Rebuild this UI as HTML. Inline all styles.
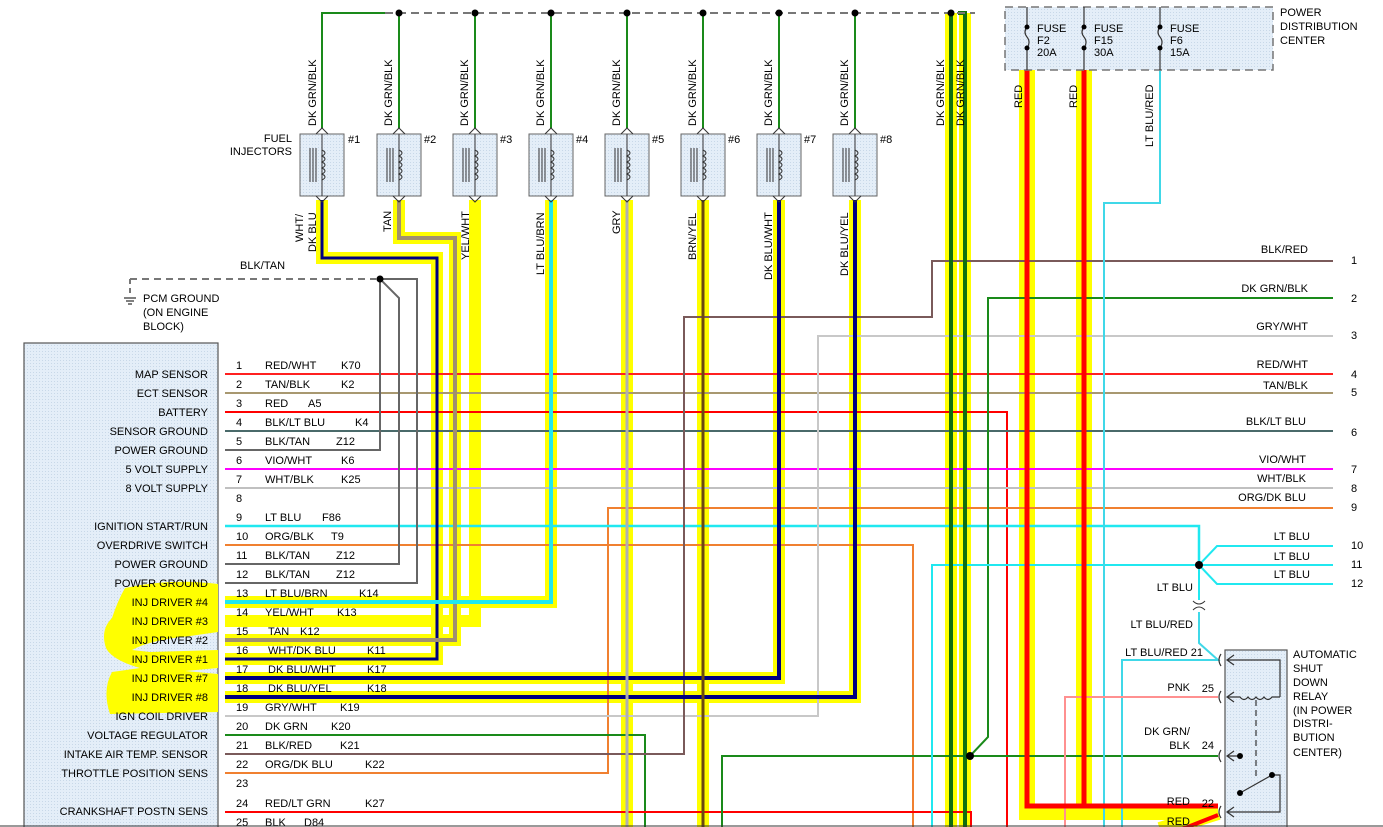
<!DOCTYPE html>
<html><head><meta charset="utf-8"><style>
html,body{margin:0;padding:0;background:#fff;}
svg{display:block;font-family:"Liberation Sans",sans-serif;font-size:11px;}
</style></head><body>
<svg width="1383" height="827" viewBox="0 0 1383 827" xmlns="http://www.w3.org/2000/svg">
<defs>
<pattern id="dots" width="3" height="3" patternUnits="userSpaceOnUse"><rect width="3" height="3" fill="#e4eef8"/><rect width="1" height="1" fill="#c8d8e8"/></pattern>
</defs>
<rect width="1383" height="827" fill="#fff"/>
<!-- PCM box -->
<rect x="24" y="343" width="194" height="490" fill="url(#dots)" stroke="#555" stroke-width="1.2"/>
<!-- left highlight blobs -->
<path d="M125 588 Q170 578 218 584 L218 632 L190 636 Q150 640 132 650 L150 652 L218 650 L218 668 L185 671 L218 674 L218 712 L110 714 Q102 690 112 672 L140 668 Q112 660 106 648 Q100 630 112 618 Q118 600 125 588 Z" fill="#ffff00"/>
<g text-anchor="end" fill="#000">
<text x="208" y="378">MAP SENSOR</text><text x="208" y="397">ECT SENSOR</text><text x="208" y="416">BATTERY</text>
<text x="208" y="435">SENSOR GROUND</text><text x="208" y="454">POWER GROUND</text><text x="208" y="473">5 VOLT SUPPLY</text>
<text x="208" y="492">8 VOLT SUPPLY</text><text x="208" y="530">IGNITION START/RUN</text><text x="208" y="549">OVERDRIVE SWITCH</text>
<text x="208" y="568">POWER GROUND</text><text x="208" y="587">POWER GROUND</text><text x="208" y="606">INJ DRIVER #4</text>
<text x="208" y="625">INJ DRIVER #3</text><text x="208" y="644">INJ DRIVER #2</text><text x="208" y="663">INJ DRIVER #1</text>
<text x="208" y="682">INJ DRIVER #7</text><text x="208" y="701">INJ DRIVER #8</text><text x="208" y="720">IGN COIL DRIVER</text>
<text x="208" y="739">VOLTAGE REGULATOR</text><text x="208" y="758">INTAKE AIR TEMP. SENSOR</text><text x="208" y="777">THROTTLE POSITION SENS</text>
<text x="208" y="815">CRANKSHAFT POSTN SENS</text>
</g>
<!-- highlight backgrounds -->
<g fill="none" stroke="#ffff00" stroke-width="12" stroke-linejoin="miter">
<polyline points="225,659 437,659 437,258 322,258 322,200"/>
<polyline points="225,640 455,640 455,238 399,238 399,200"/>
<polyline points="225,621 475,621 475,200"/>
<polyline points="225,602 551,602 551,200"/>
<polyline points="225,678 779,678 779,200"/>
<polyline points="225,697 855,697 855,200"/>
<polyline points="627,200 627,830"/>
<polyline points="703,200 703,830"/>
<polyline points="951,13 951,830"/>
<polyline points="965,13 965,830"/>
</g>
<g fill="none" stroke="#ffff00" stroke-width="16">
<polyline points="1027,70 1027,812 1218,812"/>
<polyline points="1084,70 1084,812"/>
<polyline points="1160,830 1218,812"/>
</g>
<!-- thin wires -->
<g fill="none" stroke-width="2">
<polyline points="225,374 1333,374" stroke="#ff2020"/>
<polyline points="225,393 1333,393" stroke="#a89870"/>
<polyline points="225,412 1007,412 1007,830" stroke="#ff0000"/>
<polyline points="225,431 1333,431" stroke="#4a6a6a"/>
<polyline points="225,450 380,450 380,279" stroke="#666"/>
<polyline points="225,469 1333,469" stroke="#ff00ff"/>
<polyline points="225,488 1333,488" stroke="#c0c0c0"/>
<polyline points="1333,508 608,508 608,773 225,773" stroke="#f08030"/>
<polyline points="225,526 1199,526 1199,565" stroke="#20e8f0" stroke-width="2.5"/>
<polyline points="225,545 913,545 913,830" stroke="#f08030"/>
<polyline points="225,564 399,564 399,298 380,279" stroke="#666"/>
<polyline points="225,583 417,583 417,279 380,279" stroke="#666"/>
<polyline points="225,716 818,716 818,336 1333,336" stroke="#c8c8c8"/>
<polyline points="225,735 645,735 645,830" stroke="#1a8a1a"/>
<polyline points="225,754 684,754 684,317 932,317 932,261 1333,261" stroke="#7a5a5a"/>
<polyline points="225,812 971,812 971,830" stroke="#ff0000"/>
<polyline points="1333,298 988,298 988,737 970,756" stroke="#1a8a1a"/>
<polyline points="1218,756 722,756 722,830" stroke="#1a8a1a"/>
<polyline points="932,830 932,565 1199,565 1217,546 1333,546" stroke="#20e8f0"/>
<polyline points="1199,565 1333,565" stroke="#20e8f0"/>
<polyline points="1199,565 1217,584 1333,584" stroke="#20e8f0"/>
<polyline points="1199,565 1199,600" stroke="#20e8f0"/>
<polyline points="1199,612 1199,643 1218,660 1122,660 1122,830" stroke="#40d8e8"/>
<polyline points="1160,70 1160,203 1104,203 1104,830" stroke="#40d8e8"/>
<polyline points="1218,697 1065,697 1065,830" stroke="#ff9090"/>
</g>
<!-- highlighted wire cores -->
<g fill="none" stroke-linejoin="miter">
<polyline points="225,659 437,659 437,258 322,258 322,200" stroke="#000080" stroke-width="3"/>
<polyline points="225,640 455,640 455,238 399,238 399,200" stroke="#a09070" stroke-width="4"/>
<polyline points="225,602 551,602 551,200" stroke="#20e8f0" stroke-width="4"/>
<polyline points="225,678 779,678 779,200" stroke="#000080" stroke-width="4"/>
<polyline points="225,697 855,697 855,200" stroke="#000080" stroke-width="4"/>
<polyline points="627,200 627,830" stroke="#b0b0b0" stroke-width="3"/>
<polyline points="703,200 703,830" stroke="#6b4a10" stroke-width="3"/>
<polyline points="951,13 951,830" stroke="#107010" stroke-width="4"/>
<polyline points="958,13 965,13 965,830" stroke="#107010" stroke-width="4"/>
<polyline points="1027,70 1027,806 1218,806" stroke="#ff0000" stroke-width="5"/>
<polyline points="1084,70 1084,806" stroke="#ff0000" stroke-width="5"/>
<polyline points="1180,830 1218,815" stroke="#ff0000" stroke-width="4"/>
</g>
<!-- injector top wires -->
<g stroke="#1a8a1a" stroke-width="2" fill="none">
<polyline points="322,128 322,13 385,13"/>
<line x1="399" y1="13" x2="399" y2="128"/><line x1="475" y1="13" x2="475" y2="128"/>
<line x1="551" y1="13" x2="551" y2="128"/><line x1="627" y1="13" x2="627" y2="128"/>
<line x1="703" y1="13" x2="703" y2="128"/><line x1="779" y1="13" x2="779" y2="128"/>
<line x1="855" y1="13" x2="855" y2="128"/>
</g>
<line x1="385" y1="13" x2="975" y2="13" stroke="#777" stroke-width="2" stroke-dasharray="8,5"/>
<g fill="#000"><circle cx="399" cy="13" r="3.5"/><circle cx="475" cy="13" r="3.5"/><circle cx="551" cy="13" r="3.5"/><circle cx="627" cy="13" r="3.5"/><circle cx="703" cy="13" r="3.5"/><circle cx="779" cy="13" r="3.5"/><circle cx="855" cy="13" r="3.5"/><circle cx="951" cy="13" r="3.5"/>
<circle cx="380" cy="279" r="3.5"/><circle cx="970" cy="756" r="4"/><circle cx="1199" cy="565" r="4"/></g>
<!-- injectors -->
<g id="inj">
<g stroke="#333" fill="none" stroke-width="1">
<rect x="300" y="134" width="44" height="62" fill="url(#dots)" stroke="#666"/>
<line x1="322" y1="134" x2="322" y2="196"/><path d="M316 134 L322 128 L328 134 M316 196 L322 202 L328 196"/>
<path d="M322 150 q6 3 0 6 q6 3 0 6 q6 3 0 6 q6 3 0 6 q6 3 0 6"/>
<line x1="310" y1="148" x2="310" y2="182"/><line x1="313" y1="148" x2="313" y2="182"/><line x1="316" y1="148" x2="316" y2="182"/>
</g></g>
<use href="#inj" x="77"/><use href="#inj" x="153"/><use href="#inj" x="229"/><use href="#inj" x="305"/><use href="#inj" x="381"/><use href="#inj" x="457"/><use href="#inj" x="533"/>
<text x="348" y="143">#1</text><text x="424" y="143">#2</text><text x="500" y="143">#3</text><text x="576" y="143">#4</text><text x="652" y="143">#5</text><text x="728" y="143">#6</text><text x="804" y="143">#7</text><text x="880" y="143">#8</text>
<text x="292" y="142" text-anchor="end">FUEL</text><text x="292" y="155" text-anchor="end">INJECTORS</text>
<!-- rotated labels -->
<g>
<text transform="translate(316,126) rotate(-90)">DK GRN/BLK</text>
<text transform="translate(392,126) rotate(-90)">DK GRN/BLK</text>
<text transform="translate(468,126) rotate(-90)">DK GRN/BLK</text>
<text transform="translate(544,126) rotate(-90)">DK GRN/BLK</text>
<text transform="translate(620,126) rotate(-90)">DK GRN/BLK</text>
<text transform="translate(696,126) rotate(-90)">DK GRN/BLK</text>
<text transform="translate(772,126) rotate(-90)">DK GRN/BLK</text>
<text transform="translate(848,126) rotate(-90)">DK GRN/BLK</text>
<text transform="translate(944,126) rotate(-90)">DK GRN/BLK</text>
<text transform="translate(964,126) rotate(-90)">DK GRN/BLK</text>
<text transform="translate(303,242) rotate(-90)">WHT/</text>
<text transform="translate(316,252) rotate(-90)">DK BLU</text>
<text transform="translate(391,232) rotate(-90)">TAN</text>
<text transform="translate(469,260) rotate(-90)">YEL/WHT</text>
<text transform="translate(544,275) rotate(-90)">LT BLU/BRN</text>
<text transform="translate(620,234) rotate(-90)">GRY</text>
<text transform="translate(696,260) rotate(-90)">BRN/YEL</text>
<text transform="translate(772,280) rotate(-90)">DK BLU/WHT</text>
<text transform="translate(848,276) rotate(-90)">DK BLU/YEL</text>
<text transform="translate(1022,108) rotate(-90)">RED</text>
<text transform="translate(1077,108) rotate(-90)">RED</text>
<text transform="translate(1153,147) rotate(-90)">LT BLU/RED</text>
</g>
<!-- PCM ground -->
<line x1="130" y1="279" x2="380" y2="279" stroke="#777" stroke-width="2" stroke-dasharray="7,5"/>
<line x1="130" y1="279" x2="130" y2="297" stroke="#777" stroke-width="2" stroke-dasharray="5,4"/>
<g stroke="#000" stroke-width="1"><line x1="124" y1="298" x2="136" y2="298"/><line x1="126" y1="301" x2="134" y2="301"/><line x1="128" y1="304" x2="132" y2="304"/></g>
<text x="240" y="269">BLK/TAN</text>
<text x="143" y="302">PCM GROUND</text><text x="143" y="316">(ON ENGINE</text><text x="143" y="330">BLOCK)</text>
<!-- pin labels -->
<g>
<text x="236" y="369">1</text><text x="265" y="369">RED/WHT</text><text x="341" y="369">K70</text>
<text x="236" y="388">2</text><text x="265" y="388">TAN/BLK</text><text x="341" y="388">K2</text>
<text x="236" y="407">3</text><text x="265" y="407">RED</text><text x="308" y="407">A5</text>
<text x="236" y="426">4</text><text x="265" y="426">BLK/LT BLU</text><text x="355" y="426">K4</text>
<text x="236" y="445">5</text><text x="265" y="445">BLK/TAN</text><text x="336" y="445">Z12</text>
<text x="236" y="464">6</text><text x="265" y="464">VIO/WHT</text><text x="341" y="464">K6</text>
<text x="236" y="483">7</text><text x="265" y="483">WHT/BLK</text><text x="341" y="483">K25</text>
<text x="236" y="502">8</text>
<text x="236" y="521">9</text><text x="265" y="521">LT BLU</text><text x="322" y="521">F86</text>
<text x="236" y="540">10</text><text x="265" y="540">ORG/BLK</text><text x="331" y="540">T9</text>
<text x="236" y="559">11</text><text x="265" y="559">BLK/TAN</text><text x="336" y="559">Z12</text>
<text x="236" y="578">12</text><text x="265" y="578">BLK/TAN</text><text x="336" y="578">Z12</text>
<text x="236" y="597">13</text><text x="265" y="597">LT BLU/BRN</text><text x="359" y="597">K14</text>
<text x="236" y="616">14</text><text x="265" y="616">YEL/WHT</text><text x="337" y="616">K13</text>
<text x="236" y="635">15</text><text x="268" y="635">TAN</text><text x="300" y="635">K12</text>
<text x="236" y="654">16</text><text x="268" y="654">WHT/DK BLU</text><text x="367" y="654">K11</text>
<text x="236" y="673">17</text><text x="268" y="673">DK BLU/WHT</text><text x="367" y="673">K17</text>
<text x="236" y="692">18</text><text x="268" y="692">DK BLU/YEL</text><text x="367" y="692">K18</text>
<text x="236" y="711">19</text><text x="265" y="711">GRY/WHT</text><text x="340" y="711">K19</text>
<text x="236" y="730">20</text><text x="265" y="730">DK GRN</text><text x="331" y="730">K20</text>
<text x="236" y="749">21</text><text x="265" y="749">BLK/RED</text><text x="340" y="749">K21</text>
<text x="236" y="768">22</text><text x="265" y="768">ORG/DK BLU</text><text x="365" y="768">K22</text>
<text x="236" y="787">23</text>
<text x="236" y="807">24</text><text x="265" y="807">RED/LT GRN</text><text x="365" y="807">K27</text>
<text x="236" y="826">25</text><text x="265" y="826">BLK</text><text x="304" y="826">D84</text>
</g>
<!-- right labels -->
<g text-anchor="end">
<text x="1308" y="253">BLK/RED</text><text x="1308" y="292">DK GRN/BLK</text><text x="1308" y="330">GRY/WHT</text>
<text x="1308" y="368">RED/WHT</text><text x="1308" y="389">TAN/BLK</text><text x="1306" y="425">BLK/LT BLU</text>
<text x="1306" y="463">VIO/WHT</text><text x="1306" y="482">WHT/BLK</text><text x="1306" y="501">ORG/DK BLU</text>
<text x="1310" y="540">LT BLU</text><text x="1310" y="560">LT BLU</text><text x="1310" y="578">LT BLU</text>
<text x="1193" y="591">LT BLU</text><text x="1193" y="628">LT BLU/RED</text><text x="1203" y="656">LT BLU/RED 21</text>
<text x="1190" y="691">PNK</text><text x="1214" y="692">25</text>
<text x="1190" y="735">DK GRN/</text><text x="1190" y="749">BLK</text><text x="1214" y="749">24</text>
<text x="1190" y="805">RED</text><text x="1214" y="807">22</text><text x="1190" y="825">RED</text>
</g>
<g>
<text x="1351" y="264">1</text><text x="1351" y="302">2</text><text x="1351" y="339">3</text><text x="1351" y="378">4</text><text x="1351" y="396">5</text>
<text x="1351" y="436">6</text><text x="1351" y="473">7</text><text x="1351" y="492">8</text><text x="1351" y="511">9</text>
<text x="1351" y="549">10</text><text x="1351" y="568">11</text><text x="1351" y="587">12</text>
</g>
<path d="M1193 601 q6 6 12 0 M1193 610 q6 -6 12 0" stroke="#333" fill="none"/>
<!-- power distribution center -->
<rect x="1005" y="7" width="268" height="63" fill="url(#dots)" stroke="#777" stroke-width="1.5" stroke-dasharray="8,5"/>
<g stroke="#333" fill="none" stroke-width="1.2">
<path d="M1027 7 V27 M1027 48 V70 M1027 27 q-4 5 0 10 q4 5 0 11"/>
<path d="M1084 7 V27 M1084 48 V70 M1084 27 q-4 5 0 10 q4 5 0 11"/>
<path d="M1160 7 V27 M1160 48 V70 M1160 27 q-4 5 0 10 q4 5 0 11"/>
</g>
<g fill="#000"><circle cx="1027" cy="27" r="2.5"/><circle cx="1027" cy="48" r="2.5"/><circle cx="1084" cy="27" r="2.5"/><circle cx="1084" cy="48" r="2.5"/><circle cx="1160" cy="27" r="2.5"/><circle cx="1160" cy="48" r="2.5"/></g>
<text x="1037" y="32">FUSE</text><text x="1037" y="44">F2</text><text x="1037" y="56">20A</text>
<text x="1094" y="32">FUSE</text><text x="1094" y="44">F15</text><text x="1094" y="56">30A</text>
<text x="1170" y="32">FUSE</text><text x="1170" y="44">F6</text><text x="1170" y="56">15A</text>
<text x="1280" y="16">POWER</text><text x="1280" y="30">DISTRIBUTION</text><text x="1280" y="44">CENTER</text>
<!-- relay -->
<rect x="1225" y="650" width="62" height="180" fill="url(#dots)" stroke="#555" stroke-width="1.2"/>
<g stroke="#333" fill="none" stroke-width="1.2">
<path d="M1221 654 q-4 6 0 12 M1221 691 q-4 6 0 12 M1221 750 q-4 6 0 12 M1221 806 q-4 6 0 12"/>
<path d="M1234 655 L1227 660 L1234 665 M1227 660 H1280 V697 M1234 692 L1227 697 L1234 702 M1227 697 H1240 q4 5 8 0 q4 5 8 0 q4 5 8 0 q4 5 8 0 H1280"/>
<path d="M1234 751 L1227 756 L1234 761 M1227 756 H1240"/>
<path d="M1256 700 V778" stroke-dasharray="6,4"/>
<path d="M1240 793 L1272 775 M1272 775 H1280 V812 H1227 M1234 807 L1227 812 L1234 817"/>
</g>
<g fill="#000"><circle cx="1240" cy="756" r="3"/><circle cx="1240" cy="793" r="3"/><circle cx="1272" cy="775" r="3"/></g>
<g><text x="1293" y="658">AUTOMATIC</text><text x="1293" y="672">SHUT</text><text x="1293" y="686">DOWN</text><text x="1293" y="700">RELAY</text><text x="1293" y="714">(IN POWER</text><text x="1293" y="727">DISTRI-</text><text x="1293" y="741">BUTION</text><text x="1293" y="756">CENTER)</text></g>
<line x1="0" y1="826" x2="1383" y2="826" stroke="#333" stroke-width="1"/>
</svg>
</body></html>
